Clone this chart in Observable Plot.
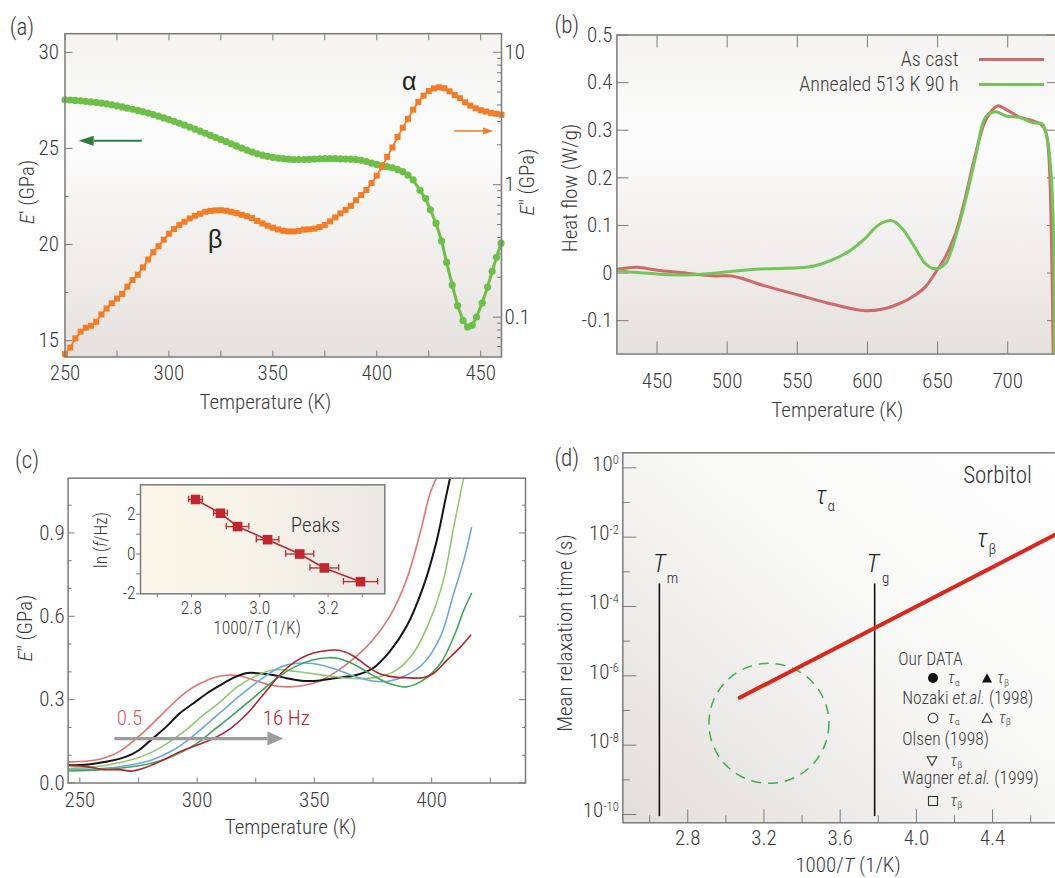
<!DOCTYPE html>
<html lang="en">
<head>
<meta charset="utf-8">
<title>Relaxation dynamics of a metallic glass and sorbitol</title>
<script src="https://cdn.jsdelivr.net/npm/d3@7"></script>
<script src="https://cdn.jsdelivr.net/npm/@observablehq/plot@0.6"></script>
<style>
  html, body { margin: 0; background: #fff; }
  #fig { position: relative; width: 1055px; height: 878px; overflow: hidden; background: #fff; }
  #fig sub { font-size: 0.62em; vertical-align: baseline; position: relative; top: 0.25em; font-style: normal; line-height: 0; }
</style>
</head>
<body>
<div id="fig"></div>
<script>
// ---------------- (a) dynamic mechanical spectrum ----------------
const storageTemp = [250, 252.5, 255, 257.5, 260, 262.5, 265, 267.5, 270, 272.5, 275, 277.5, 280, 282.5, 285, 287.5, 290, 292.5, 295, 297.5, 300, 302.5, 305, 307.5, 310, 312.5, 315, 317.5, 320, 322.5, 325, 327.5, 330, 332.5, 335, 337.5, 340, 342.5, 345, 347.5, 350, 352.5, 355, 357.5, 360, 362.5, 365, 367.5, 370, 372.5, 375, 377.5, 380, 382.5, 385, 387.5, 390, 392.5, 395, 397.5, 400, 402.5, 405, 407.5, 410, 412.5, 415, 417.5, 420.8, 423.5, 425.8, 428.5, 431.2, 433.6, 436.3, 438.9, 441.5, 443.7, 445.9, 448.0, 450.7, 453.3, 455.5, 457.6, 459.8];
const storageModulus = [27.53, 27.52, 27.50, 27.48, 27.45, 27.42, 27.39, 27.36, 27.32, 27.27, 27.22, 27.16, 27.10, 27.04, 26.98, 26.91, 26.84, 26.76, 26.68, 26.59, 26.50, 26.41, 26.31, 26.21, 26.11, 26.01, 25.90, 25.79, 25.68, 25.57, 25.46, 25.35, 25.24, 25.13, 25.02, 24.91, 24.81, 24.72, 24.65, 24.59, 24.54, 24.50, 24.47, 24.44, 24.42, 24.42, 24.42, 24.43, 24.45, 24.46, 24.47, 24.47, 24.47, 24.46, 24.45, 24.44, 24.42, 24.38, 24.32, 24.24, 24.17, 24.11, 24.05, 23.99, 23.90, 23.79, 23.62, 23.36, 22.82, 22.39, 21.81, 21.11, 20.18, 19.07, 17.89, 16.82, 16.05, 15.71, 15.80, 16.23, 16.96, 17.79, 18.61, 19.34, 20.07];
const lossTemp = [250, 252.5, 255, 257.5, 260, 262.5, 265, 267.5, 270, 272.5, 275, 277.5, 280, 282.5, 285, 287.5, 290, 292.5, 295, 297.5, 300, 302.5, 305, 307.5, 310, 312.5, 315, 317.5, 320, 322.5, 325, 327.5, 330, 332.5, 335, 337.5, 340, 342.5, 345, 347.5, 350, 352.5, 355, 357.5, 360, 362.5, 365, 367.5, 370, 372.5, 375, 377.5, 380, 382.5, 385, 387.5, 390, 392.5, 395, 397.5, 400, 402.5, 405, 407.5, 410, 412.5, 415, 417.5, 420, 422.5, 425, 427.5, 430, 432.5, 435, 437.5, 440, 442.5, 445, 447.5, 450, 452.5, 455, 457.5, 460];
// E″ in GPa, kept as log10 values
const lossLog10 = [-1.28, -1.23, -1.16, -1.11, -1.08, -1.065, -1.035, -0.98, -0.935, -0.895, -0.86, -0.825, -0.77, -0.72, -0.68, -0.625, -0.565, -0.51, -0.465, -0.415, -0.37, -0.335, -0.305, -0.28, -0.255, -0.235, -0.22, -0.205, -0.198, -0.194, -0.193, -0.197, -0.205, -0.215, -0.227, -0.238, -0.252, -0.274, -0.293, -0.31, -0.325, -0.338, -0.348, -0.353, -0.353, -0.348, -0.339, -0.337, -0.332, -0.32, -0.304, -0.277, -0.247, -0.217, -0.19, -0.16, -0.118, -0.078, -0.04, 0.012, 0.068, 0.135, 0.21, 0.281, 0.36, 0.43, 0.497, 0.566, 0.625, 0.672, 0.707, 0.727, 0.735, 0.728, 0.705, 0.677, 0.653, 0.622, 0.597, 0.577, 0.562, 0.552, 0.542, 0.535, 0.528];
const aTempTicks = [250, 275, 300, 325, 350, 375, 400, 425, 450];
const aTempLabels = [250, 300, 350, 400, 450];
const storageMajor = [15, 20, 25, 30];
const storageMinor = [17.5, 22.5, 27.5];
const lossMajor = [0.1, 1, 10];
const lossMinor = [0.06, 0.07, 0.08, 0.09, 0.2, 0.3, 0.4, 0.5, 0.6, 0.7, 0.8, 0.9, 2, 3, 4, 5, 6, 7, 8, 9];
const aPeakNames = [{T: 415.6, v: 28.44, s: "α"}, {T: 322.2, v: 20.24, s: "β"}];

// ---------------- (b) DSC heating scans ----------------
const asCastTemp = [421.4, 426.6, 436.2, 450.5, 467.2, 479.1, 491.0, 503.0, 510.1, 526.8, 550.7, 574.5, 598.4, 610.3, 622.2, 634.2, 641.3, 648.5, 655.6, 662.8, 669.9, 677.1, 684.3, 692.6, 698.6, 708.2, 717.7, 723.3, 726.9, 729.2, 730.9, 732.4];
const asCastFlow = [0.008, 0.010, 0.012, 0.006, 0.001, -0.003, -0.006, -0.006, -0.011, -0.027, -0.046, -0.065, -0.079, -0.076, -0.065, -0.046, -0.029, 0.001, 0.034, 0.083, 0.160, 0.251, 0.321, 0.351, 0.344, 0.328, 0.320, 0.313, 0.299, 0.250, 0.110, -0.170];
const annealedTemp = [421.4, 436.2, 455.2, 471.9, 488.6, 507.7, 526.8, 550.7, 562.6, 574.5, 586.5, 598.4, 607.9, 617.5, 624.6, 634.2, 641.3, 648.5, 655.6, 662.8, 669.9, 677.1, 684.3, 691.4, 698.6, 708.2, 717.7, 724.5, 728.0, 730.4, 732.4, 733.3];
const annealedFlow = [0.005, 0.001, -0.003, -0.004, -0.001, 0.005, 0.009, 0.011, 0.0155, 0.027, 0.045, 0.073, 0.101, 0.110, 0.094, 0.052, 0.020, 0.009, 0.020, 0.076, 0.153, 0.244, 0.328, 0.339, 0.330, 0.327, 0.316, 0.313, 0.285, 0.229, 0.110, -0.170];
const bTempTicks = [450, 500, 550, 600, 650, 700];
const bFlowTicks = [-0.1, 0, 0.1, 0.2, 0.3, 0.4, 0.5];

// ---------------- (c) E″ at several frequencies ----------------
const sweepFreqs = ["0.5 Hz", "1 Hz", "2 Hz", "4 Hz", "8 Hz", "16 Hz"];
const sweepTemp05 = [245, 253.6, 260.8, 266.6, 272.4, 278.1, 283.9, 289.7, 295.4, 301.2, 307.0, 312.7, 318.5, 324.3, 331.5, 338.7, 345.9, 353.1, 360.3, 367.6, 374.8, 382.0, 389.2, 395.0, 399.3, 402.2];
const sweepLoss05 = [0.076, 0.079, 0.091, 0.112, 0.148, 0.190, 0.238, 0.286, 0.328, 0.358, 0.379, 0.388, 0.385, 0.370, 0.352, 0.346, 0.352, 0.370, 0.406, 0.454, 0.514, 0.598, 0.730, 0.898, 1.042, 1.10];
const sweepTemp1 = [245, 253.6, 262.3, 269.5, 275.2, 281.0, 286.8, 292.5, 298.3, 304.1, 309.9, 315.6, 321.4, 327.2, 332.9, 338.7, 345.9, 353.1, 360.3, 367.6, 374.8, 382.0, 389.2, 396.4, 402.2, 405.8, 407.9];
const sweepLoss1 = [0.064, 0.067, 0.078, 0.094, 0.118, 0.160, 0.202, 0.250, 0.286, 0.322, 0.352, 0.379, 0.396, 0.394, 0.388, 0.376, 0.367, 0.370, 0.379, 0.388, 0.412, 0.472, 0.562, 0.706, 0.874, 1.018, 1.10];
const sweepTemp2 = [245, 256.5, 265.1, 273.8, 281.0, 288.2, 295.4, 302.6, 309.9, 317.1, 324.3, 331.5, 335.8, 341.6, 348.8, 356.0, 363.2, 370.4, 377.6, 384.9, 392.1, 399.3, 405.0, 409.4, 413.7];
const sweepLoss2 = [0.052, 0.058, 0.070, 0.088, 0.112, 0.148, 0.192, 0.244, 0.292, 0.346, 0.382, 0.406, 0.408, 0.402, 0.394, 0.385, 0.378, 0.376, 0.382, 0.406, 0.466, 0.586, 0.730, 0.922, 1.10];
const sweepTemp4 = [245, 259.4, 270.9, 281.0, 289.7, 296.9, 304.1, 311.3, 318.5, 325.7, 332.9, 338.7, 345.9, 353.1, 360.3, 367.6, 374.8, 382.0, 389.2, 396.4, 403.7, 409.4, 413.7, 417.0];
const sweepLoss4 = [0.048, 0.052, 0.064, 0.084, 0.118, 0.160, 0.211, 0.264, 0.316, 0.364, 0.406, 0.426, 0.432, 0.424, 0.406, 0.382, 0.367, 0.367, 0.388, 0.430, 0.526, 0.682, 0.802, 0.919];
const sweepTemp8 = [245, 259.4, 273.8, 283.9, 292.5, 299.8, 307.0, 314.2, 321.4, 328.6, 335.8, 341.6, 348.8, 356.0, 360.3, 367.6, 374.8, 382.0, 389.2, 396.4, 403.7, 409.4, 413.7, 417.0];
const sweepLoss8 = [0.043, 0.048, 0.060, 0.079, 0.108, 0.142, 0.190, 0.238, 0.288, 0.340, 0.388, 0.418, 0.442, 0.451, 0.448, 0.424, 0.388, 0.358, 0.346, 0.370, 0.430, 0.526, 0.622, 0.682];
const sweepTemp16 = [245, 253.6, 260.8, 266.6, 272.4, 276.7, 283.9, 292.5, 299.8, 307.0, 314.2, 321.4, 328.6, 335.8, 341.6, 347.4, 353.1, 360.3, 366.1, 371.9, 377.6, 383.4, 389.2, 396.4, 400.7, 406.5, 412.3, 416.6];
const sweepLoss16 = [0.064, 0.058, 0.048, 0.048, 0.043, 0.052, 0.076, 0.112, 0.136, 0.160, 0.196, 0.250, 0.322, 0.394, 0.436, 0.462, 0.474, 0.478, 0.460, 0.424, 0.394, 0.382, 0.379, 0.379, 0.394, 0.442, 0.490, 0.532];
const cTempTicks = [250, 275, 300, 325, 350, 375, 400, 425];
const cTempLabels = [250, 300, 350, 400];
const cLossMajor = [0, 0.3, 0.6, 0.9];
const cLossMinor = [0.1, 0.2, 0.4, 0.5, 0.7, 0.8, 1.0];
const cSweepNotes = [{T: 271.2, v: 0.234, s: "0.5", k: 0}, {T: 338.0, v: 0.234, s: "16 Hz", k: 5}];
const cShiftArrow = [{from: 264.9, to: 337.0, at: 0.158}];

// inset: loss-peak positions
const peakInvTemp = [2.812, 2.885, 2.935, 3.023, 3.117, 3.189, 3.295];
const peakLnFreq = [2.74, 2.05, 1.38, 0.72, 0.0, -0.70, -1.39];
const peakInvTempErr = [0.020, 0.020, 0.033, 0.033, 0.041, 0.042, 0.050];
const insetXTicks = [2.7, 2.8, 2.9, 3.0, 3.1, 3.2, 3.3];
const insetXLabels = [2.8, 3.0, 3.2];
const insetYTicks = [-2, -1, 0, 1, 2, 3];
const insetYLabels = [-2, 0, 2];

// ---------------- (d) relaxation map of sorbitol ----------------
const betaFitInvTemp = [3.072, 4.75];
const betaFitTau = [2.34e-7, 1.35e-2];
const transitionInvTemp = [2.651, 3.781];
const transitionName = ["m", "g"];
const transitionTauTop = [4.47e-4, 4.47e-4];
const transitionTauBottom = [8.7e-11, 8.7e-11];
const markedRegion = [{x: 3.226, tau: 4.27e-8}];
const tauLabels = [
  {x: 3.500, tau: 0.158, main: "τ", sub: "α"},
  {x: 4.346, tau: 9.1e-3, main: "τ", sub: "β"}
];
const transitionLabels = [
  {x: 2.651, tau: 1.7e-3, main: "T", sub: "m"},
  {x: 3.771, tau: 1.7e-3, main: "T", sub: "g"}
];
const dTitle = [{x: 4.426, tau: 0.603, s: "Sorbitol"}];
const dTauMajor = [1, 1e-2, 1e-4, 1e-6, 1e-8, 1e-10];
const dTauMinor = [1e-1, 1e-3, 1e-5, 1e-7, 1e-9];
const dInvMajor = [2.8, 3.2, 3.6, 4.0, 4.4];
const dInvMinor = [2.6, 3.0, 3.4, 3.8, 4.2, 4.6];

// ---------------- shared styling ----------------
const FONT = `"Liberation Sans Narrow", "Roboto Condensed", "DejaVu Sans Condensed", "Arial Narrow", Roboto, sans-serif`;
const INK = "#3b3b3b";
const AXIS = "#7b7b7b";
const GREEN = "#6dbf47";
const ORANGE = "#f47c26";
const sweepColors = ["#e07474", "#141414", "#94c66f", "#6fa8da", "#3fa65c", "#b4232b"];
const baseStyle = {fontFamily: FONT, fontSize: "21px", fontWeight: 300, color: INK, background: "transparent", overflow: "visible"};
const softFade = [[0, "#f5f4f3"], [0.18, "#f8f8f7"], [0.32, "#fdfdfd"], [1, "#e6e1de"]];

const fig = document.getElementById("fig");

function mount(svg, left, top) {
  svg.style.position = "absolute";
  svg.style.left = left + "px";
  svg.style.top = top + "px";
  svg.style.maxWidth = "none";
  fig.appendChild(svg);
  return svg;
}

// shaded plotting area drawn behind the marks
function backdrop(id, stops, dir) {
  return (index, scales, values, dims) => {
    const g = d3.create("svg:g");
    const grad = g.append("defs").append("linearGradient").attr("id", id)
      .attr("x1", dir[0]).attr("y1", dir[1]).attr("x2", dir[2]).attr("y2", dir[3]);
    for (const [offset, color] of stops) grad.append("stop").attr("offset", offset).attr("stop-color", color);
    g.append("rect")
      .attr("x", dims.marginLeft).attr("y", dims.marginTop)
      .attr("width", dims.width - dims.marginLeft - dims.marginRight)
      .attr("height", dims.height - dims.marginTop - dims.marginBottom)
      .attr("fill", `url(#${id})`);
    return g.node();
  };
}

// horizontal arrow with a solid head, placed through the plot scales
function arrowMark(rows, {color, shaft, headLen, headHalf}) {
  return (index, {x, y}) => {
    const g = d3.create("svg:g");
    for (const a of rows) {
      const x1 = x(a.from), x2 = x(a.to), yy = y(a.at);
      const base = x2 - Math.sign(x2 - x1) * headLen;
      g.append("line").attr("x1", x1).attr("x2", base).attr("y1", yy).attr("y2", yy)
        .attr("stroke", color).attr("stroke-width", shaft);
      g.append("path").attr("d", `M${x2},${yy}L${base},${yy - headHalf}L${base},${yy + headHalf}Z`).attr("fill", color);
    }
    return g.node();
  };
}

function note(html, cx, cy, {size = 21, rotate = false, anchor = "middle", color = INK} = {}) {
  const el = document.createElement("div");
  el.innerHTML = html;
  const tx = anchor === "start" ? "0" : anchor === "end" ? "-100%" : "-50%";
  el.style.cssText = `position:absolute;left:${cx}px;top:${cy}px;white-space:nowrap;line-height:1;` +
    `font-family:${FONT};font-weight:300;font-size:${size}px;color:${color};` +
    `transform:translate(${tx},-50%)${rotate ? " rotate(-90deg)" : ""};`;
  fig.appendChild(el);
  return el;
}

// ---------------- panel (a) ----------------
const aLeft = [14.15, 30.97];
const aRight = [0.05, 13.8];
const lgLo = Math.log10(aRight[0]), lgHi = Math.log10(aRight[1]);
const onLeft = lg => aLeft[0] + (lg - lgLo) / (lgHi - lgLo) * (aLeft[1] - aLeft[0]);
const storage = storageTemp.map((T, i) => ({T, v: storageModulus[i]}));
const loss = lossTemp.map((T, i) => ({T, v: onLeft(lossLog10[i])}));
const lossMajorPos = lossMajor.map(v => onLeft(Math.log10(v)));
const lossLabel = new Map(lossMajor.map((v, i) => [lossMajorPos[i], String(v)]));

const panelA = Plot.plot({
  width: 530, height: 420,
  marginLeft: 64.5, marginRight: 29, marginTop: 33.2, marginBottom: 63.5,
  x: {domain: [250, 460]},
  y: {domain: aLeft},
  style: baseStyle,
  marks: [
    backdrop("bgA", softFade, [0, 0, 0, 1]),
    Plot.axisX({anchor: "bottom", ticks: aTempTicks, tickSize: -6, fill: "none", stroke: AXIS}),
    Plot.axisX({anchor: "top", ticks: aTempTicks, tickSize: -6, fill: "none", stroke: AXIS}),
    Plot.axisX({anchor: "bottom", ticks: aTempLabels, tickSize: 0, tickPadding: 8, label: null}),
    Plot.axisY({anchor: "left", ticks: storageMajor, tickSize: -8, fill: "none", stroke: AXIS}),
    Plot.axisY({anchor: "left", ticks: storageMinor, tickSize: -4, fill: "none", stroke: AXIS}),
    Plot.axisY({anchor: "left", ticks: storageMajor, tickSize: 0, tickPadding: 6, label: null}),
    Plot.axisY({anchor: "right", ticks: lossMajorPos, tickSize: -9, fill: "none", stroke: AXIS}),
    Plot.axisY({anchor: "right", ticks: lossMinor.map(v => onLeft(Math.log10(v))), tickSize: -5, fill: "none", stroke: AXIS}),
    Plot.axisY({anchor: "right", ticks: lossMajorPos, tickSize: 0, tickPadding: 3, tickFormat: d => lossLabel.get(d), label: null}),
    Plot.line(storage, {x: "T", y: "v", stroke: GREEN, strokeWidth: 3}),
    Plot.dot(storage, {x: "T", y: "v", r: 3.6, fill: GREEN}),
    Plot.line(loss, {x: "T", y: "v", stroke: ORANGE, strokeWidth: 1.8}),
    Plot.dot(loss, {x: "T", y: "v", symbol: "square", r: 3.4, fill: ORANGE}),
    arrowMark([{from: 287.2, to: 256.8, at: 25.38}], {color: "#2f7b3b", shaft: 2, headLen: 15, headHalf: 5}),
    arrowMark([{from: 437.5, to: 456.2, at: onLeft(0.402)}], {color: ORANGE, shaft: 1.5, headLen: 10, headHalf: 3.5}),
    Plot.text(aPeakNames, {x: "T", y: "v", text: "s", fontSize: 25, fontWeight: 400, fontFamily: "Liberation Sans, Arial, sans-serif", fill: "#222"}),
    Plot.frame({stroke: AXIS, strokeWidth: 1.5})
  ]
});
mount(panelA, 0, 0);

// ---------------- panel (b) ----------------
const asCast = asCastTemp.map((T, i) => ({T, h: asCastFlow[i]}));
const annealed = annealedTemp.map((T, i) => ({T, h: annealedFlow[i]}));
const flowFormat = d => d === 0 ? "0" : d.toFixed(1);

const panelB = Plot.plot({
  width: 530, height: 420,
  marginLeft: 86.4, marginRight: 2, marginTop: 34.5, marginBottom: 66.5,
  x: {domain: [421.4, 736.2]},
  y: {domain: [-0.170, 0.5]},
  style: baseStyle,
  marks: [
    backdrop("bgB", softFade, [0, 0, 0, 1]),
    Plot.axisX({anchor: "bottom", ticks: bTempTicks, tickSize: -12, fill: "none", stroke: AXIS}),
    Plot.axisX({anchor: "top", ticks: bTempTicks, tickSize: -12, fill: "none", stroke: AXIS}),
    Plot.axisX({anchor: "bottom", ticks: bTempTicks, tickSize: 0, tickPadding: 19, label: null}),
    Plot.axisY({anchor: "left", ticks: bFlowTicks, tickSize: -12, fill: "none", stroke: AXIS}),
    Plot.axisY({anchor: "right", ticks: bFlowTicks, tickSize: -12, fill: "none", stroke: AXIS}),
    Plot.axisY({anchor: "left", ticks: bFlowTicks, tickSize: 0, tickPadding: 4.5, tickFormat: flowFormat, label: null}),
    Plot.line(asCast, {x: "T", y: "h", stroke: "#d1686b", strokeWidth: 3, curve: "catmull-rom", clip: true}),
    Plot.line(annealed, {x: "T", y: "h", stroke: "#74c45a", strokeWidth: 3, curve: "catmull-rom", clip: true}),
    Plot.frame({stroke: AXIS, strokeWidth: 1.5})
  ]
});
mount(panelB, 530, 0);

// ---------------- panel (c) ----------------
const sweepTemps = [sweepTemp05, sweepTemp1, sweepTemp2, sweepTemp4, sweepTemp8, sweepTemp16];
const sweepLosses = [sweepLoss05, sweepLoss1, sweepLoss2, sweepLoss4, sweepLoss8, sweepLoss16];
const sweepMarks = sweepTemps.map((temps, k) =>
  Plot.line(temps.map((T, i) => ({T, v: sweepLosses[k][i], f: sweepFreqs[k]})),
    {x: "T", y: "v", stroke: sweepColors[k], strokeWidth: k === 1 ? 2 : 1.6, curve: "catmull-rom", clip: true}));

const panelC = Plot.plot({
  width: 530, height: 438,
  marginLeft: 67.6, marginRight: 5, marginTop: 37.7, marginBottom: 95.5,
  x: {domain: [245, 440]},
  y: {domain: [0, 1.097]},
  style: baseStyle,
  marks: [
    Plot.axisX({anchor: "bottom", ticks: cTempTicks, tickSize: -5, fill: "none", stroke: AXIS}),
    Plot.axisY({anchor: "left", ticks: cLossMajor, tickSize: -7, fill: "none", stroke: AXIS}),
    Plot.axisY({anchor: "left", ticks: cLossMinor, tickSize: -4, fill: "none", stroke: AXIS}),
    Plot.axisY({anchor: "right", ticks: cLossMajor, tickSize: -7, fill: "none", stroke: AXIS}),
    Plot.axisY({anchor: "right", ticks: cLossMinor, tickSize: -4, fill: "none", stroke: AXIS}),
    Plot.axisX({anchor: "bottom", ticks: cTempLabels, tickSize: 0, tickPadding: 9, label: null}),
    Plot.axisY({anchor: "left", ticks: cLossMajor, tickSize: 0, tickPadding: 3.5, tickFormat: d => d.toFixed(1), label: null}),
    ...sweepMarks,
    arrowMark(cShiftArrow, {color: "#9c9c9c", shaft: 3.2, headLen: 16, headHalf: 7}),
    Plot.text(cSweepNotes, {x: "T", y: "v", text: "s", fontSize: 21, fill: d => d.k === 0 ? "#d6605f" : "#b4232b"}),
    Plot.frame({stroke: AXIS, strokeWidth: 1.5})
  ]
});
mount(panelC, 0, 440);

// inset of panel (c)
const peaks = peakInvTemp.map((x, i) => ({x, y: peakLnFreq[i], lo: x - peakInvTempErr[i], hi: x + peakInvTempErr[i]}));
const PEAK = "#c0262d";
const inset = Plot.plot({
  width: 310, height: 170,
  marginLeft: 50, marginRight: 15.7, marginTop: 14.3, marginBottom: 46.7,
  x: {domain: [2.651, 3.366]},
  y: {domain: [-2, 3.48]},
  style: {...baseStyle, fontSize: "17.5px"},
  marks: [
    backdrop("bgInset", [[0, "#fcf7e9"], [0.45, "#f8f3e8"], [1, "#ebe8e5"]], [0, 0, 1, 0]),
    Plot.axisX({anchor: "bottom", ticks: insetXTicks, tickSize: 4, fill: "none", stroke: AXIS}),
    Plot.axisY({anchor: "left", ticks: insetYTicks, tickSize: 4, fill: "none", stroke: AXIS}),
    Plot.axisX({anchor: "bottom", ticks: insetXLabels, tickSize: 0, tickPadding: 8, tickFormat: d => d.toFixed(1), label: null}),
    Plot.axisY({anchor: "left", ticks: insetYLabels, tickSize: 0, tickPadding: 5, tickFormat: d => String(d), label: null}),
    Plot.line(peaks, {x: "x", y: "y", stroke: PEAK, strokeWidth: 1.6}),
    Plot.ruleY(peaks, {y: "y", x1: "lo", x2: "hi", stroke: PEAK, strokeWidth: 1.3}),
    Plot.ruleX(peaks, {x: "lo", y1: d => d.y - 0.16, y2: d => d.y + 0.16, stroke: PEAK, strokeWidth: 1.3}),
    Plot.ruleX(peaks, {x: "hi", y1: d => d.y - 0.16, y2: d => d.y + 0.16, stroke: PEAK, strokeWidth: 1.3}),
    Plot.dot(peaks, {x: "x", y: "y", symbol: "square", r: 5.4, fill: PEAK}),
    Plot.text([{x: 3.163, y: 1.43, s: "Peaks"}], {x: "x", y: "y", text: "s", fontSize: 21, fill: "#333"}),
    Plot.frame({stroke: AXIS, strokeWidth: 1.5})
  ]
});
mount(inset, 90, 470);

// ---------------- panel (d) ----------------
const betaFit = betaFitInvTemp.map((x, i) => ({x, tau: betaFitTau[i]}));
const transitions = transitionInvTemp.map((x, i) => ({x, name: transitionName[i], top: transitionTauTop[i], bottom: transitionTauBottom[i]}));

const panelD = Plot.plot({
  width: 530, height: 438,
  marginLeft: 92.3, marginRight: 2, marginTop: 12.3, marginBottom: 55.7,
  x: {domain: [2.459, 4.746]},
  y: {type: "log", domain: [5.77e-11, 2.708]},
  style: baseStyle,
  marks: [
    backdrop("bgD", [[0, "#e2dedb"], [0.55, "#f8f8f7"], [1, "#ffffff"]], [0, 1, 1, 0]),
    Plot.axisY({anchor: "left", ticks: dTauMajor, tickSize: -14, fill: "none", stroke: AXIS}),
    Plot.axisY({anchor: "left", ticks: dTauMinor, tickSize: -7.5, fill: "none", stroke: AXIS}),
    Plot.axisY({anchor: "left", ticks: dTauMajor, tickSize: 0, tickPadding: 4, dy: -4,
      tickFormat: d => "10^" + Math.round(Math.log10(d)), label: null}),
    Plot.axisX({anchor: "bottom", ticks: dInvMajor, tickSize: -13, fill: "none", stroke: AXIS}),
    Plot.axisX({anchor: "bottom", ticks: dInvMinor, tickSize: -7, fill: "none", stroke: AXIS}),
    Plot.axisX({anchor: "bottom", ticks: dInvMajor, tickSize: 0, tickPadding: 7, tickFormat: d => d.toFixed(1), label: null}),
    Plot.ruleX(transitions, {x: "x", y1: "top", y2: "bottom", stroke: "#111", strokeWidth: 1.6}),
    Plot.dot(markedRegion, {x: "x", y: "tau", r: 60, fill: "none", stroke: "#3bb04c", strokeWidth: 1.5, strokeDasharray: "10,7"}),
    Plot.line(betaFit, {x: "x", y: "tau", stroke: "#d9271d", strokeWidth: 4, clip: true}),
    Plot.text(tauLabels, {x: "x", y: "tau", text: "main", fontSize: 25, fontStyle: "italic", fill: "#222"}),
    Plot.text(tauLabels, {x: "x", y: "tau", text: "sub", fontSize: 15, dx: 10, dy: 11, fill: "#222"}),
    Plot.text(transitionLabels, {x: "x", y: "tau", text: "main", fontSize: 25, fontStyle: "italic", fill: "#222"}),
    Plot.text(transitionLabels, {x: "x", y: "tau", text: "sub", fontSize: 15, dx: 13, dy: 14, fill: "#222"}),
    Plot.text(dTitle, {x: "x", y: "tau", text: "s", fontSize: 23, fill: "#333"}),
    Plot.frame({stroke: AXIS, strokeWidth: 1.5})
  ]
});
// decade labels written as 10 with a raised exponent
d3.select(panelD).selectAll('g[aria-label="y-axis tick label"] text').each(function () {
  const [base, exp] = this.textContent.split("^");
  if (exp === undefined) return;
  const t = d3.select(this).text(null);
  t.append("tspan").text(base);
  t.append("tspan").attr("dy", "-0.5em").attr("font-size", "0.6em").text(exp);
});
mount(panelD, 530, 440);

// ---------------- titles, panel letters and legends ----------------
note("(a)", 22, 26.7, {size: 23});
note("(b)", 566.8, 25, {size: 23});
note("(c)", 27, 460, {size: 23});
note("(d)", 566.8, 458.3, {size: 23});

note("Temperature (K)", 265.4, 401.7);
note("<i>E</i>′ (GPa)", 27, 191.7, {rotate: true});
note("<i>E</i>″ (GPa)", 527, 181.7, {rotate: true});

note("Temperature (K)", 837.3, 410);
note("Heat flow (W/g)", 569.5, 187.5, {rotate: true});
note("As cast", 958.5, 59.3, {anchor: "end", size: 20});
note("Annealed 513 K 90 h", 958.5, 84, {anchor: "end", size: 20});
for (const [cy, color] of [[59.3, "#d1686b"], [84, "#74c45a"]]) {
  const s = document.createElement("div");
  s.style.cssText = `position:absolute;left:978.6px;top:${cy - 1.5}px;width:65px;height:3px;background:${color};`;
  fig.appendChild(s);
}

note("Temperature (K)", 290.7, 826.7);
note("<i>E</i>″ (GPa)", 25.4, 628.3, {rotate: true});
note("1000/<i>T</i> (1/K)", 257, 629.3, {size: 17.5});
note("ln (<i>f</i>/Hz)", 102, 540, {size: 17.5, rotate: true});

note("Mean relaxation time (s)", 565.2, 632.5, {rotate: true});
note("1000/<i>T</i> (1/K)", 848, 865);

// legend of panel (d)
function legendSymbol(shape, cx, cy) {
  const shapes = {
    disc: `<circle cx="6" cy="6" r="5" fill="#111"/>`,
    tri: `<polygon points="6,1.2 11,10.5 1,10.5" fill="#111"/>`,
    ring: `<circle cx="6" cy="6" r="4.8" fill="none" stroke="#333" stroke-width="1.1"/>`,
    triOpen: `<polygon points="6,1.5 10.8,10.3 1.2,10.3" fill="none" stroke="#333" stroke-width="1.1"/>`,
    triDown: `<polygon points="1.2,1.7 10.8,1.7 6,10.5" fill="none" stroke="#333" stroke-width="1.1"/>`,
    box: `<rect x="1.5" y="1.5" width="9" height="9" fill="none" stroke="#333" stroke-width="1.1"/>`
  };
  const el = document.createElement("div");
  el.innerHTML = `<svg width="12" height="12" viewBox="0 0 12 12">${shapes[shape]}</svg>`;
  el.style.cssText = `position:absolute;left:${cx - 6}px;top:${cy - 6}px;width:12px;height:12px;line-height:0;`;
  fig.appendChild(el);
}
const LG = 17.5;
const TAU = 16;
note("Our DATA", 898.3, 660, {anchor: "start", size: LG});
legendSymbol("disc", 933.4, 678.3); note("<i>τ</i><sub>α</sub>", 947.8, 678.3, {anchor: "start", size: TAU});
legendSymbol("tri", 987, 678.3); note("<i>τ</i><sub>β</sub>", 997, 678.3, {anchor: "start", size: TAU});
note("Nozaki <i>et.al.</i> (1998)", 902.3, 699.3, {anchor: "start", size: LG});
legendSymbol("ring", 933.4, 717.7); note("<i>τ</i><sub>α</sub>", 947.8, 717.7, {anchor: "start", size: TAU});
legendSymbol("triOpen", 987, 717.7); note("<i>τ</i><sub>β</sub>", 998.7, 717.7, {anchor: "start", size: TAU});
note("Olsen (1998)", 902.3, 740, {anchor: "start", size: LG});
legendSymbol("triDown", 931.7, 761); note("<i>τ</i><sub>β</sub>", 950.2, 761, {anchor: "start", size: TAU});
note("Wagner <i>et.al.</i> (1999)", 902.3, 779.3, {anchor: "start", size: LG});
legendSymbol("box", 932.7, 801); note("<i>τ</i><sub>β</sub>", 950.2, 801, {anchor: "start", size: TAU});
</script>
</body>
</html>
